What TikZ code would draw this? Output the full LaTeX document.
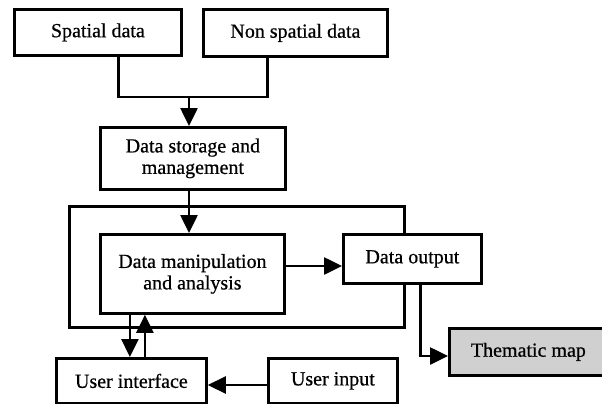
\documentclass[tikz,border=0pt]{standalone}
\usepackage{fontspec}
\setmainfont{Liberation Serif}[FakeBold=0.6]
\usetikzlibrary{arrows.meta}
\begin{document}
\begin{tikzpicture}[x=1pt,y=-1pt,
  box/.style={draw, line width=2.8pt, fill=white, inner sep=0pt, align=center,
    anchor=north west, font=\fontsize{20}{21.5}\selectfont},
  frame/.style={draw, line width=2.6pt, inner sep=0pt, anchor=north west},
  link/.style={line width=2.6pt},
  arr/.style={link, -{Triangle[length=18pt,width=17pt]}},
]
\useasboundingbox (0,0) rectangle (602,404);

% enclosing frame of the processing core
\node[frame, minimum width=335pt, minimum height=121pt] (core) at (68,205) {};

% boxes
\node[box, minimum width=167pt, minimum height=46pt] (spatial) at (13,8) {Spatial data};
\node[box, minimum width=184pt, minimum height=47pt] (nonspatial) at (202,8) {Non spatial data};
\node[box, minimum width=185pt, minimum height=62pt] (storage) at (99,126) {Data storage and\\management};
\node[box, minimum width=184pt, minimum height=79pt] (manip) at (99,233) {Data manipulation\\and analysis};
\node[box, minimum width=138pt, minimum height=49pt] (output) at (342,233) {Data output};
\node[box, fill={rgb,255:red,208;green,208;blue,208}, minimum width=158pt, minimum height=47pt] (thematic) at (448,327) {Thematic map};
\node[box, minimum width=150pt, minimum height=45pt] (ui) at (55,357) {User interface};
\node[box, minimum width=129pt, minimum height=45pt] (input) at (267,357) {User input};

% junction points of the connectors
\coordinate (join) at (189,97);
\coordinate (outy) at (0,266);
\coordinate (uiy) at (0,385);
\coordinate (mapy) at (0,356);

% inputs merge into storage
\draw[link] ([xshift=20.5pt]spatial.south) |- (join) -| ([xshift=-28pt]nonspatial.south);
\draw[arr] (join) -- (storage.north -| join);
% storage to manipulation
\draw[arr] (storage.south -| join) -- (manip.north -| join);
% manipulation to output
\draw[arr] (manip.east |- outy) -- (output.west |- outy);
% manipulation and user interface
\draw[arr] ([xshift=-62.5pt]manip.south) -- ([xshift=-62.5pt]manip.south |- ui.north);
\draw[arr] ([xshift=-47.5pt]manip.south |- ui.north) -- ([xshift=-47.5pt]manip.south);
% user input to interface
\draw[arr] (input.west |- uiy) -- (ui.east |- uiy);
% output to thematic map
\draw[arr] ([xshift=8pt]output.south) |- (thematic.west |- mapy);
\end{tikzpicture}
\end{document}
